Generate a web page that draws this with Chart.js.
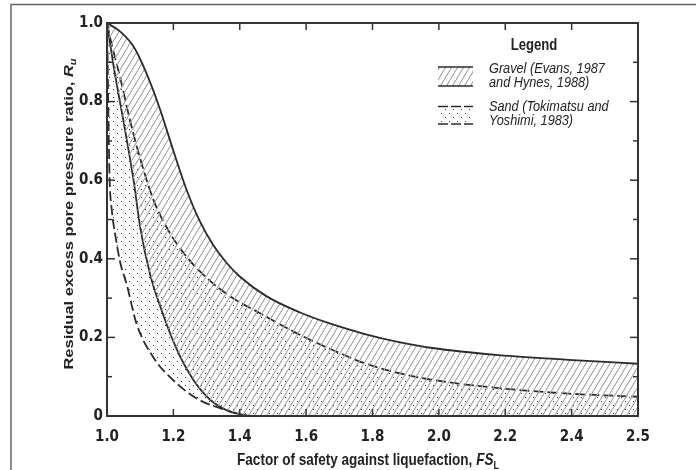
<!DOCTYPE html>
<html>
<head>
<meta charset="utf-8">
<script src="https://cdn.jsdelivr.net/npm/chart.js@4.4.0/dist/chart.umd.min.js"></script>
<style>
  html, body { margin: 0; padding: 0; background: #fff; }
  canvas { display: block; }
</style>
</head>
<body>
<canvas id="chart" width="696" height="470"></canvas>
<script>
// Values. The x axis is evenly ticked 1.0 .. 2.6,
// but the last tick is printed as "2.5" in the original, so we keep that.
const xTickLabels = ['1.0', '1.2', '1.4', '1.6', '1.8', '2.0', '2.2', '2.4', '2.5'];
const yTickLabels = ['0', '0.2', '0.4', '0.6', '0.8', '1.0'];

const gravelUpperFS = [1.00, 1.04, 1.08, 1.12, 1.16, 1.20, 1.24, 1.28, 1.32, 1.36, 1.40, 1.48, 1.58, 1.68, 1.78, 1.88, 1.98, 2.18, 2.39, 2.60];
const gravelUpperRu = [1.00, 0.978, 0.94, 0.87, 0.78, 0.675, 0.575, 0.495, 0.435, 0.39, 0.355, 0.305, 0.264, 0.233, 0.208, 0.188, 0.173, 0.155, 0.143, 0.133];

const gravelLowerFS = [1.00, 1.02, 1.056, 1.08, 1.10, 1.13, 1.16, 1.21, 1.26, 1.31, 1.36, 1.41, 1.44, 2.00, 2.60];
const gravelLowerRu = [1.00, 0.89, 0.72, 0.60, 0.48, 0.36, 0.28, 0.17, 0.092, 0.042, 0.015, 0.003, 0.0, 0.0, 0.0];

const sandUpperFS = [1.00, 1.01, 1.04, 1.07, 1.10, 1.14, 1.19, 1.24, 1.30, 1.37, 1.46, 1.58, 1.68, 1.78, 1.88, 1.98, 2.18, 2.39, 2.60];
const sandUpperRu = [1.00, 0.96, 0.86, 0.75, 0.655, 0.55, 0.465, 0.405, 0.352, 0.305, 0.262, 0.207, 0.168, 0.133, 0.109, 0.092, 0.071, 0.057, 0.049];

const sandLowerFS = [1.00, 1.002, 1.005, 1.008, 1.015, 1.027, 1.04, 1.059, 1.089, 1.139, 1.21, 1.28, 1.34, 1.39, 1.42, 2.00, 2.60];
const sandLowerRu = [1.00, 0.90, 0.72, 0.60, 0.52, 0.45, 0.39, 0.336, 0.235, 0.15, 0.083, 0.04, 0.02, 0.007, 0.0, 0.0, 0.0];

const TICK_FONT = "'Liberation Sans Narrow', 'Arial Narrow', 'DejaVu Sans Condensed', Arial, sans-serif";
const FONT = "'Liberation Sans', Arial, sans-serif";
const SX = 0.82;   // the original figure is squeezed sideways
const INK = '#2b2b2b';

function points(xs, ys) {
    return xs.map((x, i) => ({ x: x, y: ys[i] }));
}

// fill patterns: light diagonal hatch for gravel, sparse dots for sand
function makeHatch() {
    const c = document.createElement('canvas');
    c.width = 6; c.height = 10;
    const g = c.getContext('2d');
    g.strokeStyle = '#a8a8a8';
    g.lineWidth = 1;
    g.beginPath();
    g.moveTo(-6, 20); g.lineTo(6, 0);
    g.moveTo(0, 20); g.lineTo(12, 0);
    g.moveTo(-6, 10); g.lineTo(0, 0);
    g.moveTo(0, 10); g.lineTo(6, 0);
    g.stroke();
    return g.createPattern(c, 'repeat');
}

function makeDots() {
    const c = document.createElement('canvas');
    c.width = 8; c.height = 8;
    const g = c.getContext('2d');
    g.fillStyle = '#333';
    g.fillRect(1, 1, 1, 1);
    g.fillRect(5, 5, 1, 1);
    return g.createPattern(c, 'repeat');
}

// draws a run of text pieces (for italics and sub-scripts), squeezed by SX
function textRun(ctx, parts, align) {
    let total = 0;
    parts.forEach(p => {
        ctx.font = p.font;
        p.w = ctx.measureText(p.text).width;
        total += p.w;
    });
    let x = align === 'center' ? -total / 2 : 0;
    parts.forEach(p => {
        ctx.font = p.font;
        ctx.fillText(p.text, x, p.dy || 0);
        x += p.w;
    });
}

const ctx0 = document.getElementById('chart').getContext('2d');
const hatch = makeHatch();
const dots = makeDots();

// inward ticks, box, outer frame, axis titles, legend
const decorations = {
    id: 'decorations',
    afterDraw(chart) {
        const { ctx, chartArea: a, scales: { x, y } } = chart;
        ctx.save();

        function seg(x1, y1, x2, y2) {
            ctx.beginPath();
            ctx.moveTo(x1, y1);
            ctx.lineTo(x2, y2);
            ctx.stroke();
        }

        ctx.strokeStyle = '#333';
        ctx.lineWidth = 1.5;
        x.ticks.forEach(t => {
            const px = x.getPixelForValue(t.value);
            seg(px, a.bottom, px, a.bottom - 7);
            seg(px, a.top, px, a.top + 7);
        });
        for (let i = 0; i <= 10; i++) {
            const py = y.getPixelForValue(i / 10);
            const len = i % 2 === 0 ? 8 : 5;
            seg(a.left, py, a.left + len, py);
            seg(a.right, py, a.right - len, py);
        }

        ctx.lineWidth = 2;
        ctx.strokeRect(a.left, a.top, a.right - a.left, a.bottom - a.top);

        // outer frame of the figure
        ctx.strokeStyle = '#666';
        ctx.lineWidth = 1.5;
        ctx.beginPath();
        ctx.moveTo(11, 470);
        ctx.lineTo(11, 4.5);
        ctx.lineTo(696, 4.5);
        ctx.stroke();

        ctx.fillStyle = '#222';
        ctx.textBaseline = 'alphabetic';
        ctx.textAlign = 'left';

        // x title
        ctx.save();
        ctx.translate(368, 465);
        ctx.scale(SX, 1);
        textRun(ctx, [
            { text: 'Factor of safety against liquefaction, ', font: 'bold 16.5px ' + FONT },
            { text: 'FS', font: 'italic bold 16.5px ' + FONT },
            { text: 'L', font: 'bold 11px ' + FONT, dy: 4 }
        ], 'center');
        ctx.restore();

        // y title, rotated
        ctx.save();
        ctx.translate(73, 214);
        ctx.scale(SX, 1);
        ctx.rotate(-Math.PI / 2);
        textRun(ctx, [
            { text: 'Residual excess pore pressure ratio, ', font: 'bold 16.5px ' + FONT },
            { text: 'R', font: 'italic bold 16.5px ' + FONT },
            { text: 'u', font: 'italic bold 11px ' + FONT, dy: 4 }
        ], 'center');
        ctx.restore();

        // legend
        ctx.save();
        ctx.translate(534, 50);
        ctx.scale(SX, 1);
        textRun(ctx, [{ text: 'Legend', font: 'bold 16px ' + FONT }], 'center');
        ctx.restore();

        ctx.fillStyle = hatch;
        ctx.fillRect(438, 67, 35, 19);
        ctx.strokeStyle = INK;
        ctx.lineWidth = 1.5;
        seg(438, 67, 473, 67);
        seg(438, 86, 473, 86);

        ctx.fillStyle = dots;
        ctx.fillRect(438, 108, 35, 15);
        ctx.setLineDash([10, 3]);
        seg(438, 106.5, 473, 106.5);
        seg(438, 124, 473, 124);
        ctx.setLineDash([]);

        ctx.fillStyle = '#222';
        const legendLines = [
            ['Gravel (Evans, 1987', 72.5],
            ['and Hynes, 1988)', 86.5],
            ['Sand (Tokimatsu and', 110.5],
            ['Yoshimi, 1983)', 125]
        ];
        legendLines.forEach(([txt, by]) => {
            ctx.save();
            ctx.translate(489, by);
            ctx.scale(SX, 1);
            textRun(ctx, [{ text: txt, font: 'italic 15.5px ' + FONT }], 'left');
            ctx.restore();
        });

        ctx.restore();
    }
};

const lineBase = {
    pointRadius: 0,
    borderColor: INK,
    borderWidth: 1.8,
    cubicInterpolationMode: 'monotone'
};

new Chart(ctx0, {
    type: 'line',
    data: {
        datasets: [
            Object.assign({}, lineBase, {
                label: 'Gravel upper',
                data: points(gravelUpperFS, gravelUpperRu),
                backgroundColor: hatch,
                fill: '+1'
            }),
            Object.assign({}, lineBase, {
                label: 'Gravel lower',
                data: points(gravelLowerFS, gravelLowerRu),
                fill: false
            }),
            Object.assign({}, lineBase, {
                label: 'Sand upper',
                data: points(sandUpperFS, sandUpperRu),
                borderDash: [10, 4],
                backgroundColor: dots,
                fill: '+1'
            }),
            Object.assign({}, lineBase, {
                label: 'Sand lower',
                data: points(sandLowerFS, sandLowerRu),
                borderDash: [10, 4],
                fill: false
            })
        ]
    },
    options: {
        responsive: false,
        animation: false,
        layout: { padding: { top: 23, right: 58, left: 0, bottom: 0 } },
        plugins: {
            legend: { display: false },
            tooltip: { enabled: false }
        },
        scales: {
            x: {
                type: 'linear',
                min: 1.0,
                max: 2.6,
                grid: { display: false, drawTicks: false },
                border: { display: false },
                ticks: {
                    stepSize: 0.2,
                    padding: 12,
                    maxRotation: 0,
                    color: '#222',
                    font: { family: TICK_FONT, size: 15, weight: 'bold' },
                    callback: (value, index) => xTickLabels[index]
                },
                afterFit: scale => { scale.height = 54; }
            },
            y: {
                min: 0,
                max: 1,
                grid: { display: false, drawTicks: false },
                border: { display: false },
                ticks: {
                    stepSize: 0.2,
                    padding: 4,
                    color: '#222',
                    font: { family: TICK_FONT, size: 15, weight: 'bold' },
                    callback: (value, index) => yTickLabels[index]
                },
                afterFit: scale => { scale.width = 107; }
            }
        }
    },
    plugins: [decorations]
});
</script>
</body>
</html>
